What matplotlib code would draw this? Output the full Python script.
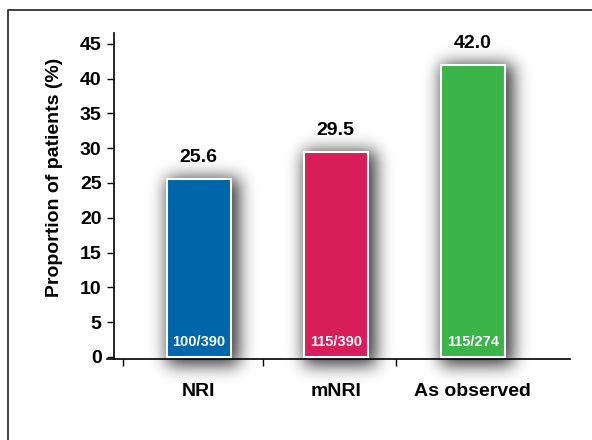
import numpy as np
import matplotlib.pyplot as plt
from matplotlib.lines import Line2D

plt.rcParams['font.family'] = ['Liberation Sans', 'DejaVu Sans']

categories = ['NRI', 'mNRI', 'As observed']
values = [25.6, 29.5, 42.0]
counts = ['100/390', '115/390', '115/274']
colors = ['#0066aa', '#d81d5b', '#3bb54a']
yticks = [0, 5, 10, 15, 20, 25, 30, 35, 40, 45]

W, H = 592, 440
fig = plt.figure(figsize=(W / 100, H / 100), dpi=100)

# outer frame (left and top edges visible)
fig.add_artist(Line2D([8 / W, 8 / W, 1], [0, 1 - 10 / H, 1 - 10 / H],
                      transform=fig.transFigure, color='#333333', lw=1.3))

ax = fig.add_axes([107 / W, 81 / H, 463 / W, 326 / H])
ax.patch.set_visible(False)
ax.set_xlim(-0.67, 2.71)
ax.set_ylim(-0.29, 46.55)

xs = list(range(len(categories)))
bw = 0.47

ax.bar(xs, values, width=bw, color=colors, edgecolor='white', linewidth=1.5, zorder=3)

# blurred drop shadow behind the bars, built in pixel space
mask = np.zeros((H, W))
for x, v in zip(xs, values):
    x0, y0 = ax.transData.transform((x - bw / 2, 0))
    x1, y1 = ax.transData.transform((x + bw / 2, v))
    mask[int(y0) - 8:int(y1) + 1, int(x0) + 1:int(x1) + 9] = 1.0
k = np.arange(-30, 31)
kern = np.exp(-k ** 2 / (2 * 8.5 ** 2))
kern /= kern.sum()
blur = np.apply_along_axis(lambda r: np.convolve(r, kern, mode='same'), 1, mask)
blur = np.apply_along_axis(lambda c: np.convolve(c, kern, mode='same'), 0, blur)
shadow = np.zeros((H, W, 4))
shadow[..., 3] = np.clip(blur * 0.8, 0, 1)
fig.figimage(shadow, xo=0, yo=0, origin='lower', zorder=-1)

for x, v, c in zip(xs, values, counts):
    ax.annotate(f'{v:.1f}', xy=(x, v), xytext=(0, 9), textcoords='offset points',
                ha='center', va='bottom', fontsize=14, fontweight='bold', zorder=4)
    ax.annotate(c, xy=(x, 0), xytext=(0, 6), textcoords='offset points',
                ha='center', va='bottom', fontsize=10.5, fontweight='bold',
                color='white', zorder=4)

for s in ['top', 'right']:
    ax.spines[s].set_visible(False)
ax.spines['left'].set_position(('axes', 7 / 463))
ax.spines['left'].set_linewidth(1.2)
ax.spines['bottom'].set_linewidth(1.2)

ax.set_yticks(yticks)
ax.tick_params(axis='y', length=5, width=1, pad=4, labelsize=14)
for lab in ax.get_yticklabels():
    lab.set_fontweight('bold')

ax.set_xticks(xs)
ax.set_xticklabels(categories, fontsize=14, fontweight='bold')
ax.tick_params(axis='x', length=0, pad=17)
ax.set_xticks([-0.55, 0.47, 1.44], minor=True)
ax.tick_params(axis='x', which='minor', length=5, width=1)

fig.text(55 / W, 1 - 177 / H, 'Proportion of patients (%)', rotation=90,
         ha='center', va='center', fontsize=14, fontweight='bold')

fig.savefig('out.png', dpi=100)
